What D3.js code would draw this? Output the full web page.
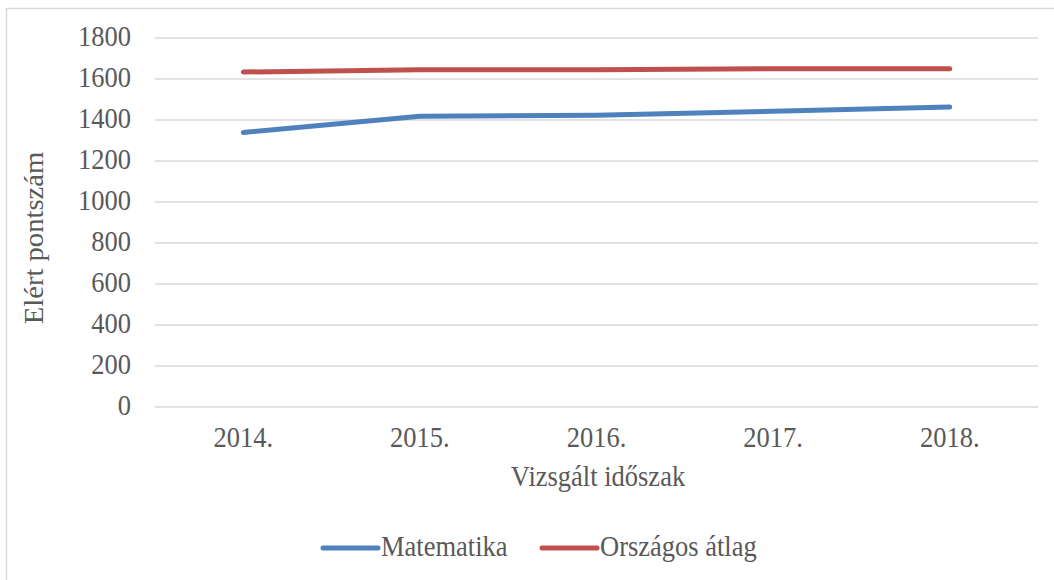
<!DOCTYPE html>
<html lang="hu">
<head>
    <meta charset="UTF-8">
    <title>Elért pontszám - Matematika és országos átlag</title>
    <script src="https://d3js.org/d3.v7.min.js"></script>
    <style>
        body {
            margin: 0;
            background: #ffffff;
        }
        svg text {
            font-family: "Liberation Serif", "Times New Roman", serif;
            fill: #595959;
        }
    </style>
</head>
<body>
    <div id="chart"></div>

    <script>
        // data
        let years = ["2014.", "2015.", "2016.", "2017.", "2018."];
        let matematika = [1339, 1418, 1423, 1443, 1463];
        let orszagos = [1634, 1645, 1645, 1650, 1650];
        let yTicks = [0, 200, 400, 600, 800, 1000, 1200, 1400, 1600, 1800];
        let seriesNames = ["Matematika", "Országos átlag"];
        let seriesColors = ["#4f81bd", "#c0504d"];

        let width = 1054, height = 580;
        let fontSize = 26.5;
        let stretch = 1.08;   // the reference text looks a bit taller than wide

        let svg = d3.select("#chart").append("svg")
            .attr("width", width)
            .attr("height", height);

        // outer chart border
        svg.append("rect")
            .attr("x", 6.5)
            .attr("y", 8.5)
            .attr("width", 1060)
            .attr("height", 580)
            .attr("fill", "none")
            .attr("stroke", "#d9d9d9")
            .attr("stroke-width", 1.5);

        let x = d3.scaleBand()
            .domain(years)
            .range([155, 1038]);

        let y = d3.scaleLinear()
            .domain([0, 1800])
            .range([407, 38]);

        // gridlines
        svg.append("g")
            .selectAll("line")
            .data(yTicks)
            .enter()
            .append("line")
            .attr("x1", 155)
            .attr("x2", 1038)
            .attr("y1", d => y(d))
            .attr("y2", d => y(d))
            .attr("stroke", "#d9d9d9")
            .attr("stroke-width", 1.5);

        // y tick labels
        svg.append("g")
            .selectAll("text")
            .data(yTicks)
            .enter()
            .append("text")
            .attr("transform", d => "translate(131," + (y(d) + 8) + ") scale(1," + stretch + ")")
            .attr("text-anchor", "end")
            .attr("font-size", fontSize)
            .text(d => d);

        // x tick labels
        svg.append("g")
            .selectAll("text")
            .data(years)
            .enter()
            .append("text")
            .attr("transform", d => "translate(" + (x(d) + x.bandwidth() / 2) + ",447) scale(1," + stretch + ")")
            .attr("text-anchor", "middle")
            .attr("font-size", fontSize)
            .text(d => d);

        // axis titles
        svg.append("text")
            .attr("transform", "translate(598,486) scale(1," + stretch + ")")
            .attr("text-anchor", "middle")
            .attr("font-size", fontSize)
            .text("Vizsgált időszak");

        svg.append("text")
            .attr("transform", "translate(43,238) rotate(-90) scale(" + stretch + ",1)")
            .attr("text-anchor", "middle")
            .attr("font-size", fontSize)
            .text("Elért pontszám");

        // lines
        let line = d3.line()
            .x((d, i) => x(years[i]) + x.bandwidth() / 2)
            .y(d => y(d));

        [matematika, orszagos].forEach((values, i) => {
            svg.append("path")
                .datum(values)
                .attr("d", line)
                .attr("fill", "none")
                .attr("stroke", seriesColors[i])
                .attr("stroke-width", 5)
                .attr("stroke-linecap", "round")
                .attr("stroke-linejoin", "round");
        });

        // legend
        let legendX = [323, 542];
        seriesNames.forEach((name, i) => {
            let g = svg.append("g")
                .attr("transform", "translate(" + legendX[i] + ",548)");
            g.append("line")
                .attr("x1", 0)
                .attr("x2", 55)
                .attr("y1", 0)
                .attr("y2", 0)
                .attr("stroke", seriesColors[i])
                .attr("stroke-width", 5)
                .attr("stroke-linecap", "round");
            g.append("text")
                .attr("transform", "translate(58,8) scale(1," + stretch + ")")
                .attr("font-size", fontSize)
                .text(name);
        });
    </script>
</body>
</html>
